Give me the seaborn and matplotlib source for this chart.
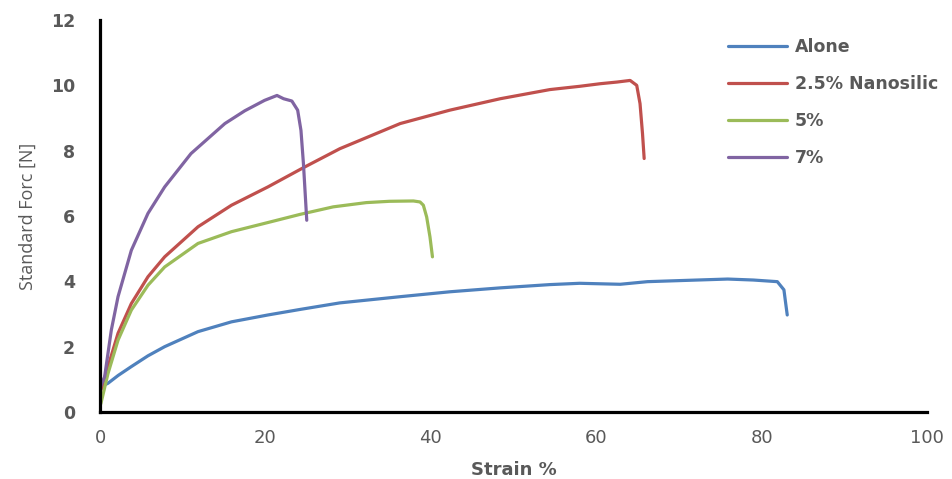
import pandas as pd
import matplotlib.pyplot as plt
import seaborn as sns

# strain (%) / standard force (N)
alone_strain = [0.1, 0.56, 0.97, 2.2, 3.79, 5.8, 7.82, 11.85, 15.9, 20.3, 24.2, 29.0, 36.3,
                42.3, 48.4, 54.4, 58.0, 62.9, 66.2, 71.0, 75.9, 79.0, 81.9, 82.7, 82.9, 83.1]
alone_force = [0.70, 0.83, 0.88, 1.12, 1.39, 1.72, 2.00, 2.46, 2.76, 2.97, 3.14, 3.34, 3.53,
               3.68, 3.80, 3.90, 3.94, 3.91, 3.99, 4.03, 4.07, 4.04, 3.99, 3.74, 3.35, 2.97]

nano25_strain = [0.05, 0.97, 2.18, 3.79, 5.8, 7.82, 11.85, 15.9, 20.3, 24.6, 29.0, 36.3,
                 42.3, 48.4, 54.4, 58.0, 60.5, 62.5, 64.1, 64.9, 65.3, 65.6, 65.8]
nano25_force = [0.62, 1.39, 2.41, 3.32, 4.14, 4.75, 5.67, 6.33, 6.89, 7.48, 8.06, 8.83,
                9.24, 9.59, 9.87, 9.97, 10.05, 10.10, 10.15, 10.00, 9.44, 8.52, 7.76]

nano5_strain = [0.1, 0.97, 2.18, 3.79, 5.8, 7.82, 11.85, 15.9, 20.3, 24.2, 28.2, 32.2,
                35.0, 37.9, 38.7, 39.1, 39.5, 39.9, 40.2]
nano5_force = [0.25, 1.18, 2.20, 3.12, 3.88, 4.44, 5.16, 5.52, 5.80, 6.05, 6.28, 6.41,
               6.45, 6.46, 6.43, 6.33, 5.97, 5.36, 4.75]

nano7_strain = [0.05, 0.56, 1.37, 2.18, 3.79, 5.8, 7.82, 11.0, 15.1, 17.5, 19.9, 21.4,
                22.2, 23.2, 23.9, 24.3, 24.6, 25.0]
nano7_force = [0.77, 1.08, 2.51, 3.53, 4.95, 6.08, 6.89, 7.91, 8.83, 9.22, 9.54, 9.69,
               9.59, 9.52, 9.24, 8.62, 7.60, 5.87]

# legend text as visible in the source chart
labels = ['Alone', '2.5% Nanosilic', '5%', '7%']
colors = ['#4F81BD', '#C0504D', '#9BBB59', '#8064A2']

x_ticks = [0, 20, 40, 60, 80, 100]
y_ticks = [0, 2, 4, 6, 8, 10, 12]


def build_frame():
    parts = []
    for name, xs, ys in zip(labels,
                            [alone_strain, nano25_strain, nano5_strain, nano7_strain],
                            [alone_force, nano25_force, nano5_force, nano7_force]):
        parts.append(pd.DataFrame({'strain': xs, 'force': ys, 'sample': name}))
    return pd.concat(parts, ignore_index=True)


def main():
    df = build_frame()
    sns.set_style('white')
    plt.rcParams['font.family'] = ['DejaVu Sans']
    gray = '#595959'

    fig = plt.figure(figsize=(9.52, 4.79), dpi=100)
    ax = fig.add_axes([100 / 952, 1 - 412 / 479, 827 / 952, 392 / 479])

    sns.lineplot(data=df, x='strain', y='force', hue='sample', hue_order=labels,
                 palette=colors, sort=False, estimator=None, linewidth=2.3, ax=ax)

    ax.set_xlim(0, 100)
    ax.set_ylim(0, 12)
    ax.set_xticks(x_ticks)
    ax.set_yticks(y_ticks)
    ax.tick_params(axis='both', length=0)
    ax.tick_params(axis='y', pad=18, labelsize=12.5, labelcolor=gray)
    ax.tick_params(axis='x', pad=12, labelsize=13, labelcolor=gray)
    for t in ax.get_yticklabels():
        t.set_fontweight('bold')

    ax.set_xlabel('Strain %', fontsize=13, fontweight='bold', color=gray, labelpad=10)
    ax.set_ylabel('Standard Forc [N]', fontsize=13, color=gray, family='Open Sans', labelpad=10)

    for side in ['top', 'right']:
        ax.spines[side].set_visible(False)
    for side in ['left', 'bottom']:
        ax.spines[side].set_color('black')
        ax.spines[side].set_linewidth(2.3)

    handles, _ = ax.get_legend_handles_labels()
    ax.legend(handles, labels, loc='upper left', bbox_to_anchor=(728 / 952, 1 - 38 / 479),
              bbox_transform=fig.transFigure, frameon=False, borderpad=0, borderaxespad=0,
              handlelength=3.4, handletextpad=0.45, labelspacing=1.1,
              prop={'weight': 'bold', 'size': 12.5}, labelcolor=gray)

    fig.savefig('out.png', dpi=100)
    plt.close(fig)


if __name__ == "__main__":
    main()
